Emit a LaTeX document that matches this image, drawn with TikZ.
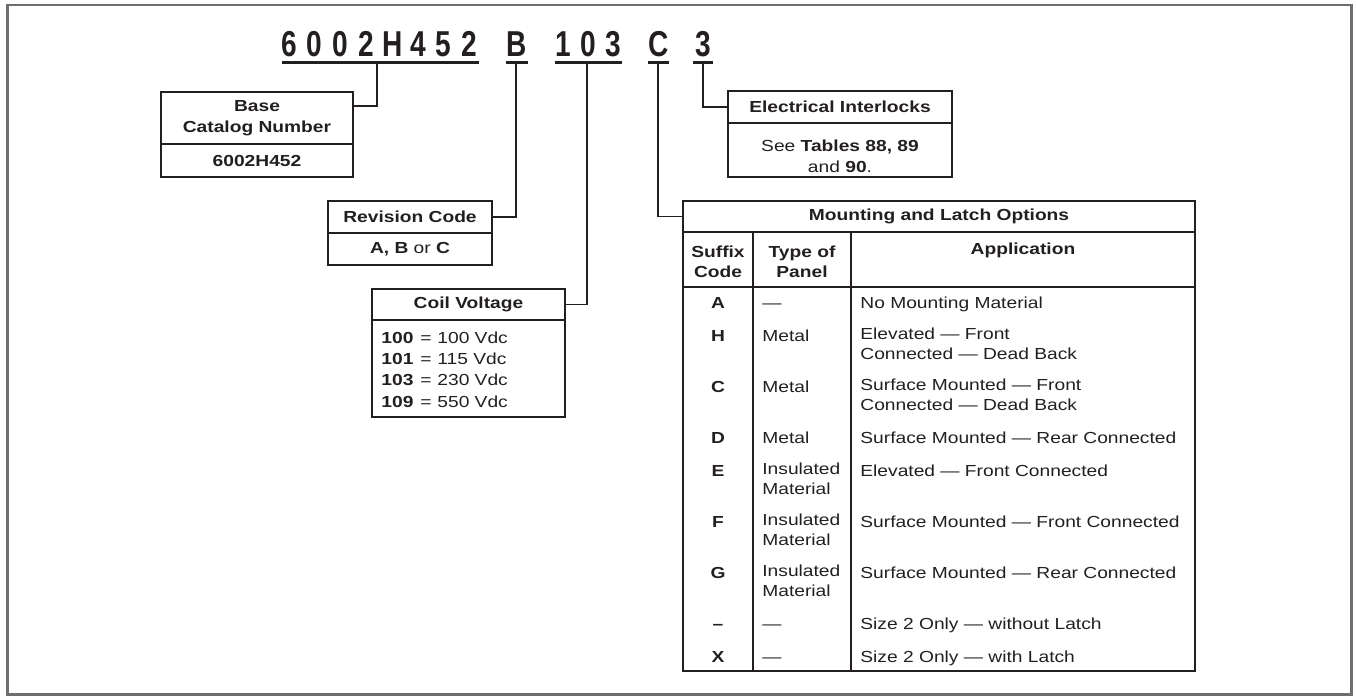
\documentclass[tikz,border=0pt]{standalone}
\usepackage{fontspec}
\setmainfont{Liberation Sans}[FakeStretch=1.2]
\newfontfamily\codefont{Liberation Sans}[FakeStretch=0.78]
\usetikzlibrary{positioning}
\definecolor{ink}{HTML}{231F20}
\definecolor{framegray}{HTML}{6D6E70}
\newcommand{\txt}{\fontsize{8}{10}\selectfont}
\newcommand{\boxtxt}{\fontsize{8}{10.5}\selectfont}
\tikzstyle{box} = [draw=ink, line width=0.75pt, outer sep=0pt, inner sep=0pt, align=center]
\tikzstyle{wire} = [draw=ink, line width=0.6pt]
\tikzstyle{codeline} = [draw=ink, line width=1.5pt]
\tikzstyle{codechar} = [anchor=base, inner sep=0pt, font=\codefont\bfseries\fontsize{18}{18}\selectfont]
\tikzstyle{cell} = [anchor=base west, inner sep=0pt, align=left]
\tikzstyle{rowcell} = [anchor=north west, inner sep=0pt, align=left, execute at begin node=\strut]

\begin{document}
\begin{tikzpicture}[x=0.5pt, y=-0.5pt, every node/.style={font=\txt, text=ink}]
	\useasboundingbox (0,0) rectangle (1356,696);
	\draw [framegray, line width=1.25pt] (7.5,5) rectangle (1351.5,694.5);

	% catalog number
	\foreach \ch/\x [count=\i] in {6/289, 0/314.8, 0/340.6, 2/366.4, H/392.2, 4/418, 5/443.8, 2/469.6,
	                               B/517, 1/563, 0/588, 3/613, C/658.5, 3/703}
		\node (Char\i) [codechar] at (\x,56) {\ch};
	\draw [codeline] (282,62) -- (479,62);
	\draw [codeline] (506,62) -- (528,62);
	\draw [codeline] (555,62) -- (622,62);
	\draw [codeline] (648,62) -- (669,62);
	\draw [codeline] (693,62) -- (713,62);

	% base catalog number
	\node (BaseHead) [box, minimum width=96pt, minimum height=26pt, font=\boxtxt\bfseries] at (257,118) {Base\\Catalog Number};
	\node (BaseVal) [box, minimum width=96pt, minimum height=16.5pt, below=0pt of BaseHead, font=\txt\bfseries] {6002H452};
	\coordinate (BaseTap) at (377,62);
	\coordinate (BaseBend) at (377,106);
	\draw [wire] (BaseTap) -- (BaseBend) -- (BaseBend -| BaseHead.east);

	% revision code
	\node (RevHead) [box, minimum width=82pt, minimum height=16pt, font=\txt\bfseries] at (410,217) {Revision Code};
	\node (RevVal) [box, minimum width=82pt, minimum height=16pt, below=0pt of RevHead] {\textbf{A, B} or \textbf{C}};
	\coordinate (RevTap) at (516,62);
	\draw [wire] (RevTap) |- (RevHead.east);

	% coil voltage
	\node (CoilHead) [box, minimum width=96.5pt, minimum height=15.5pt, font=\txt\bfseries] at (468.5,304.5) {Coil Voltage};
	\node (CoilVal) [box, minimum width=96.5pt, minimum height=48.5pt, below=0pt of CoilHead] {};
	\foreach \num/\volt/\y in {100/100/343.5, 101/115/364.5, 103/230/385.5, 109/550/407.5} {
		\node (Num\num) [cell, font=\txt\bfseries] at (381,\y) {\num};
		\node (Eq\num) [cell] at (420,\y) {=};
		\node (Volt\num) [cell] at (437,\y) {\volt~Vdc};
	}
	\coordinate (CoilTap) at (587,62);
	\draw [wire] (CoilTap) |- (CoilHead.east);

	% electrical interlocks
	\node (LockHead) [box, minimum width=112pt, minimum height=16pt, font=\txt\bfseries] at (840,107) {Electrical Interlocks};
	\node (LockVal) [box, minimum width=112pt, minimum height=27pt, below=0pt of LockHead] {};
	\node (LockText) [align=center, font=\boxtxt] at (840,156.5) {See \textbf{Tables 88, 89}\\and \textbf{90}.};
	\coordinate (LockTap) at (703,62);
	\draw [wire] (LockTap) |- (LockHead.west);

	% mounting and latch options
	\node (Table) [box, minimum width=256pt, minimum height=235pt] at (939,436) {};
	\node (TableTitle) [box, minimum width=256pt, minimum height=15.5pt, font=\txt\bfseries] at (939,216.5) {Mounting and Latch Options};
	\coordinate (TableTap) at (658,62);
	\draw [wire] (TableTap) |- (TableTitle.west);
	\coordinate (HeadBottom) at (683,287);
	\draw [box] (HeadBottom) -- (HeadBottom -| Table.east);
	\coordinate (ColA) at (753,232);
	\draw [box] (ColA) -- (ColA |- Table.south);
	\coordinate (ColB) at (851,232);
	\draw [box] (ColB) -- (ColB |- Table.south);

	\node (HeadCode) [font=\txt\bfseries, align=center] at (718,262) {Suffix\\Code};
	\node (HeadPanel) [font=\txt\bfseries, align=center] at (802,262) {Type of\\Panel};
	\node (HeadApp) [font=\txt\bfseries] at (1023,250) {Application};

	\foreach \y/\code/\panel/\app [count=\i] in {
			308.5/A/{—}/{No Mounting Material},
			341.5/H/Metal/{Elevated — Front\\Connected — Dead Back},
			392.5/C/Metal/{Surface Mounted — Front\\Connected — Dead Back},
			443.5/D/Metal/{Surface Mounted — Rear Connected},
			476.5/E/{Insulated\\Material}/{Elevated — Front Connected},
			527.5/F/{Insulated\\Material}/{Surface Mounted — Front Connected},
			578.5/G/{Insulated\\Material}/{Surface Mounted — Rear Connected},
			629.5/{–}/{—}/{Size 2 Only — without Latch},
			662.5/X/{—}/{Size 2 Only — with Latch}} {
		\node (Code\i) [anchor=base, inner sep=0pt, font=\txt\bfseries] at (718,\y) {\code};
		\node (Panel\i) [rowcell] at (762,\y-14) {\panel};
		\node (App\i) [rowcell] at (860,\y-14) {\app};
	}
\end{tikzpicture}
\end{document}
